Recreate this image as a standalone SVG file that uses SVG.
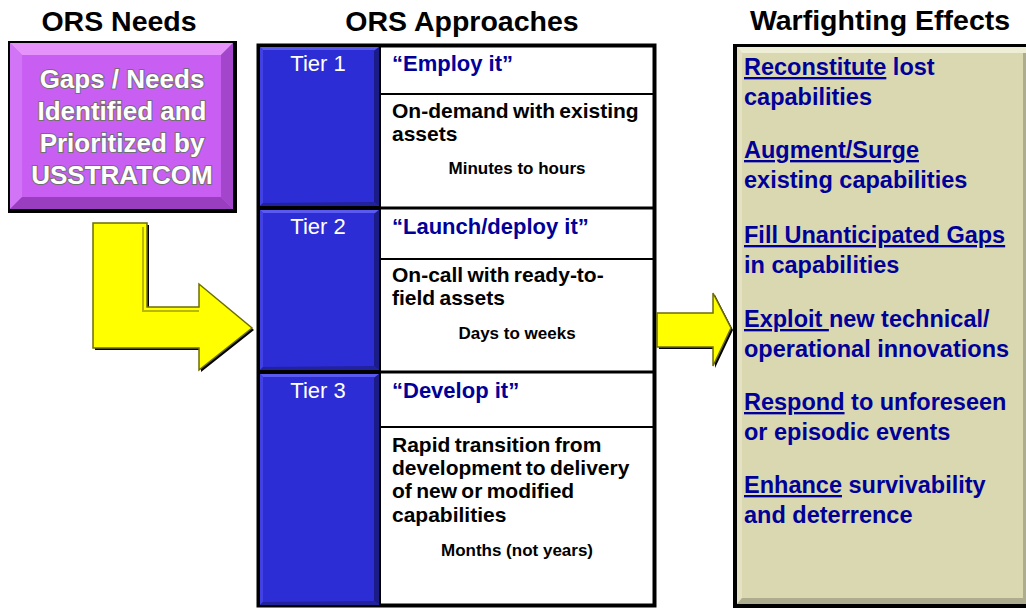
<svg xmlns="http://www.w3.org/2000/svg" width="1026" height="609" viewBox="0 0 1026 609">
<style>
  .hdr{font-family:"Liberation Sans",Arial,sans-serif;font-weight:bold;font-size:28.5px;fill:#000;text-anchor:middle}
  .gap{font-family:"Liberation Sans",Arial,sans-serif;font-weight:bold;font-size:26px;fill:#fff;stroke:#707070;stroke-width:2;paint-order:stroke;text-anchor:middle}
  .tier{font-family:"Liberation Sans",Arial,sans-serif;font-size:22px;fill:#fff;text-anchor:middle}
  .ttl{font-family:"Liberation Sans",Arial,sans-serif;font-weight:bold;font-size:22px;fill:#000099}
  .desc{font-family:"Liberation Sans",Arial,sans-serif;font-weight:bold;font-size:21px;fill:#000;word-spacing:-1.5px}
  .time{font-family:"Liberation Sans",Arial,sans-serif;font-weight:bold;font-size:17px;fill:#000;text-anchor:middle}
  .eff{font-family:"Liberation Sans",Arial,sans-serif;font-weight:bold;font-size:23.5px;fill:#000099}
  .u{text-decoration:underline}
  .blue{fill:#2d2dd6}
  .bl-top{fill:#5a5af0}
  .bl-left{fill:#4242e4}
  .bl-right{fill:#1c1c88}
  .bl-bot{fill:#22229c}
  .yel{fill:#ffff00;stroke:#6e6e00;stroke-width:1.5}
</style>
<rect width="1026" height="609" fill="#fff"/>

<!-- headers -->
<text class="hdr" x="119" y="31">ORS Needs</text>
<text class="hdr" x="462" y="31">ORS Approaches</text>
<text class="hdr" x="880" y="30">Warfighting Effects</text>

<!-- ORS Needs node -->
<g id="needs">
  <rect x="8" y="41" width="229" height="172" fill="#000"/>
  <rect x="10" y="43" width="223" height="166" fill="#c85ff2"/>
  <polygon points="10,43 233,43 221,55 22,55" fill="#e592fa"/>
  <polygon points="10,43 22,55 22,197 10,209" fill="#d274f6"/>
  <polygon points="233,43 233,209 221,197 221,55" fill="#a446cc"/>
  <polygon points="10,209 233,209 221,197 22,197" fill="#9a3ec0"/>
  <text class="gap" x="122" y="88">Gaps / Needs</text>
  <text class="gap" x="122" y="120">Identified and</text>
  <text class="gap" x="122" y="152">Prioritized by</text>
  <text class="gap" x="122" y="184">USSTRATCOM</text>
</g>

<!-- ORS Approaches table -->
<g id="approaches">
  <rect x="258.5" y="45.5" width="396" height="560" fill="#fff" stroke="#000" stroke-width="4"/>
  <rect x="258" y="45" width="123" height="561" fill="#000"/>
  <line x1="258" y1="208" x2="656" y2="208" stroke="#000" stroke-width="3"/>
  <line x1="258" y1="372" x2="656" y2="372" stroke="#000" stroke-width="3"/>
  <line x1="381" y1="94" x2="656" y2="94" stroke="#000" stroke-width="2"/>
  <line x1="381" y1="259" x2="656" y2="259" stroke="#000" stroke-width="2"/>
  <line x1="381" y1="427" x2="656" y2="427" stroke="#000" stroke-width="2"/>
</g>

<g id="tier1">
  <rect class="blue" x="260" y="47" width="119" height="159"/>
  <polygon class="bl-top" points="260,47 379,47 375,50 263,50"/>
  <polygon class="bl-left" points="260,47 263,50 263,203 260,206"/>
  <polygon class="bl-right" points="379,47 379,206 374,202 374,51"/>
  <polygon class="bl-bot" points="260,206 379,206 374,202 263,203"/>
  <text class="tier" x="318" y="71">Tier 1</text>
  <text class="ttl" x="392" y="71">“Employ it”</text>
  <text class="desc" x="392" y="118">On-demand with existing</text>
  <text class="desc" x="392" y="141">assets</text>
  <text class="time" x="517" y="174">Minutes to hours</text>
</g>

<g id="tier2">
  <rect class="blue" x="260" y="210" width="119" height="160"/>
  <polygon class="bl-top" points="260,210 379,210 375,213 263,213"/>
  <polygon class="bl-left" points="260,210 263,213 263,367 260,370"/>
  <polygon class="bl-right" points="379,210 379,370 374,366 374,214"/>
  <polygon class="bl-bot" points="260,370 379,370 374,366 263,367"/>
  <text class="tier" x="318" y="234">Tier 2</text>
  <text class="ttl" x="392" y="234">“Launch/deploy it”</text>
  <text class="desc" x="392" y="282">On-call with ready-to-</text>
  <text class="desc" x="392" y="305">field assets</text>
  <text class="time" x="517" y="339">Days to weeks</text>
</g>

<g id="tier3">
  <rect class="blue" x="260" y="374" width="119" height="231"/>
  <polygon class="bl-top" points="260,374 379,374 375,377 263,377"/>
  <polygon class="bl-left" points="260,374 263,377 263,602 260,605"/>
  <polygon class="bl-right" points="379,374 379,605 374,601 374,378"/>
  <polygon class="bl-bot" points="260,605 379,605 374,601 263,602"/>
  <text class="tier" x="318" y="398">Tier 3</text>
  <text class="ttl" x="392" y="398">“Develop it”</text>
  <text class="desc" x="392" y="452">Rapid transition from</text>
  <text class="desc" x="392" y="475">development to delivery</text>
  <text class="desc" x="392" y="498">of new or modified</text>
  <text class="desc" x="392" y="522">capabilities</text>
  <text class="time" x="517" y="556">Months (not years)</text>
</g>

<!-- Warfighting Effects node -->
<g id="effects">
  <rect x="733" y="44" width="300" height="564" fill="#000"/>
  <rect x="737" y="47" width="296" height="557" fill="#dad8b0"/>
  <polygon points="737,47 1033,47 1029,53 742,53" fill="#eeedd6"/>
  <polygon points="737,47 742,53 742,598 737,604" fill="#e4e2c2"/>
  <polygon points="1023,53 1029,53 1029,598 1023,598" fill="#aeac8e"/>
  <polygon points="737,604 1033,604 1029,598 742,598" fill="#aeac8e"/>
  <text class="eff" x="744" y="75"><tspan class="u">Reconstitute</tspan> lost</text>
  <text class="eff" x="744" y="105">capabilities</text>
  <text class="eff" x="744" y="158"><tspan class="u">Augment/Surge</tspan></text>
  <text class="eff" x="744" y="188">existing capabilities</text>
  <text class="eff" x="744" y="243"><tspan class="u">Fill Unanticipated Gaps</tspan></text>
  <text class="eff" x="744" y="273">in capabilities</text>
  <text class="eff" x="744" y="327"><tspan class="u">Exploit </tspan>new technical/</text>
  <text class="eff" x="744" y="357">operational innovations</text>
  <text class="eff" x="744" y="410"><tspan class="u">Respond</tspan> to unforeseen</text>
  <text class="eff" x="744" y="440">or episodic events</text>
  <text class="eff" x="744" y="493"><tspan class="u">Enhance</tspan> survivability</text>
  <text class="eff" x="744" y="523">and deterrence</text>
</g>

<!-- connectors -->
<g id="connectors">
  <polygon points="95,225 149,225 149,309 201,309 201,286 254,330 201,372 201,350 95,350" fill="#000"/>
  <polygon class="yel" points="93,223 147,223 147,307 199,307 199,284 252,328 199,370 199,348 93,348"/>
  <polyline points="143,227 143,311 199,311" fill="none" stroke="#b8b800" stroke-width="2"/>
  <polygon points="659,315 715,315 715,295 733,330 715,368 715,349 659,349" fill="#000"/>
  <polygon class="yel" points="657,313 713,313 713,293 731,328 713,366 713,347 657,347"/>
</g>
</svg>
